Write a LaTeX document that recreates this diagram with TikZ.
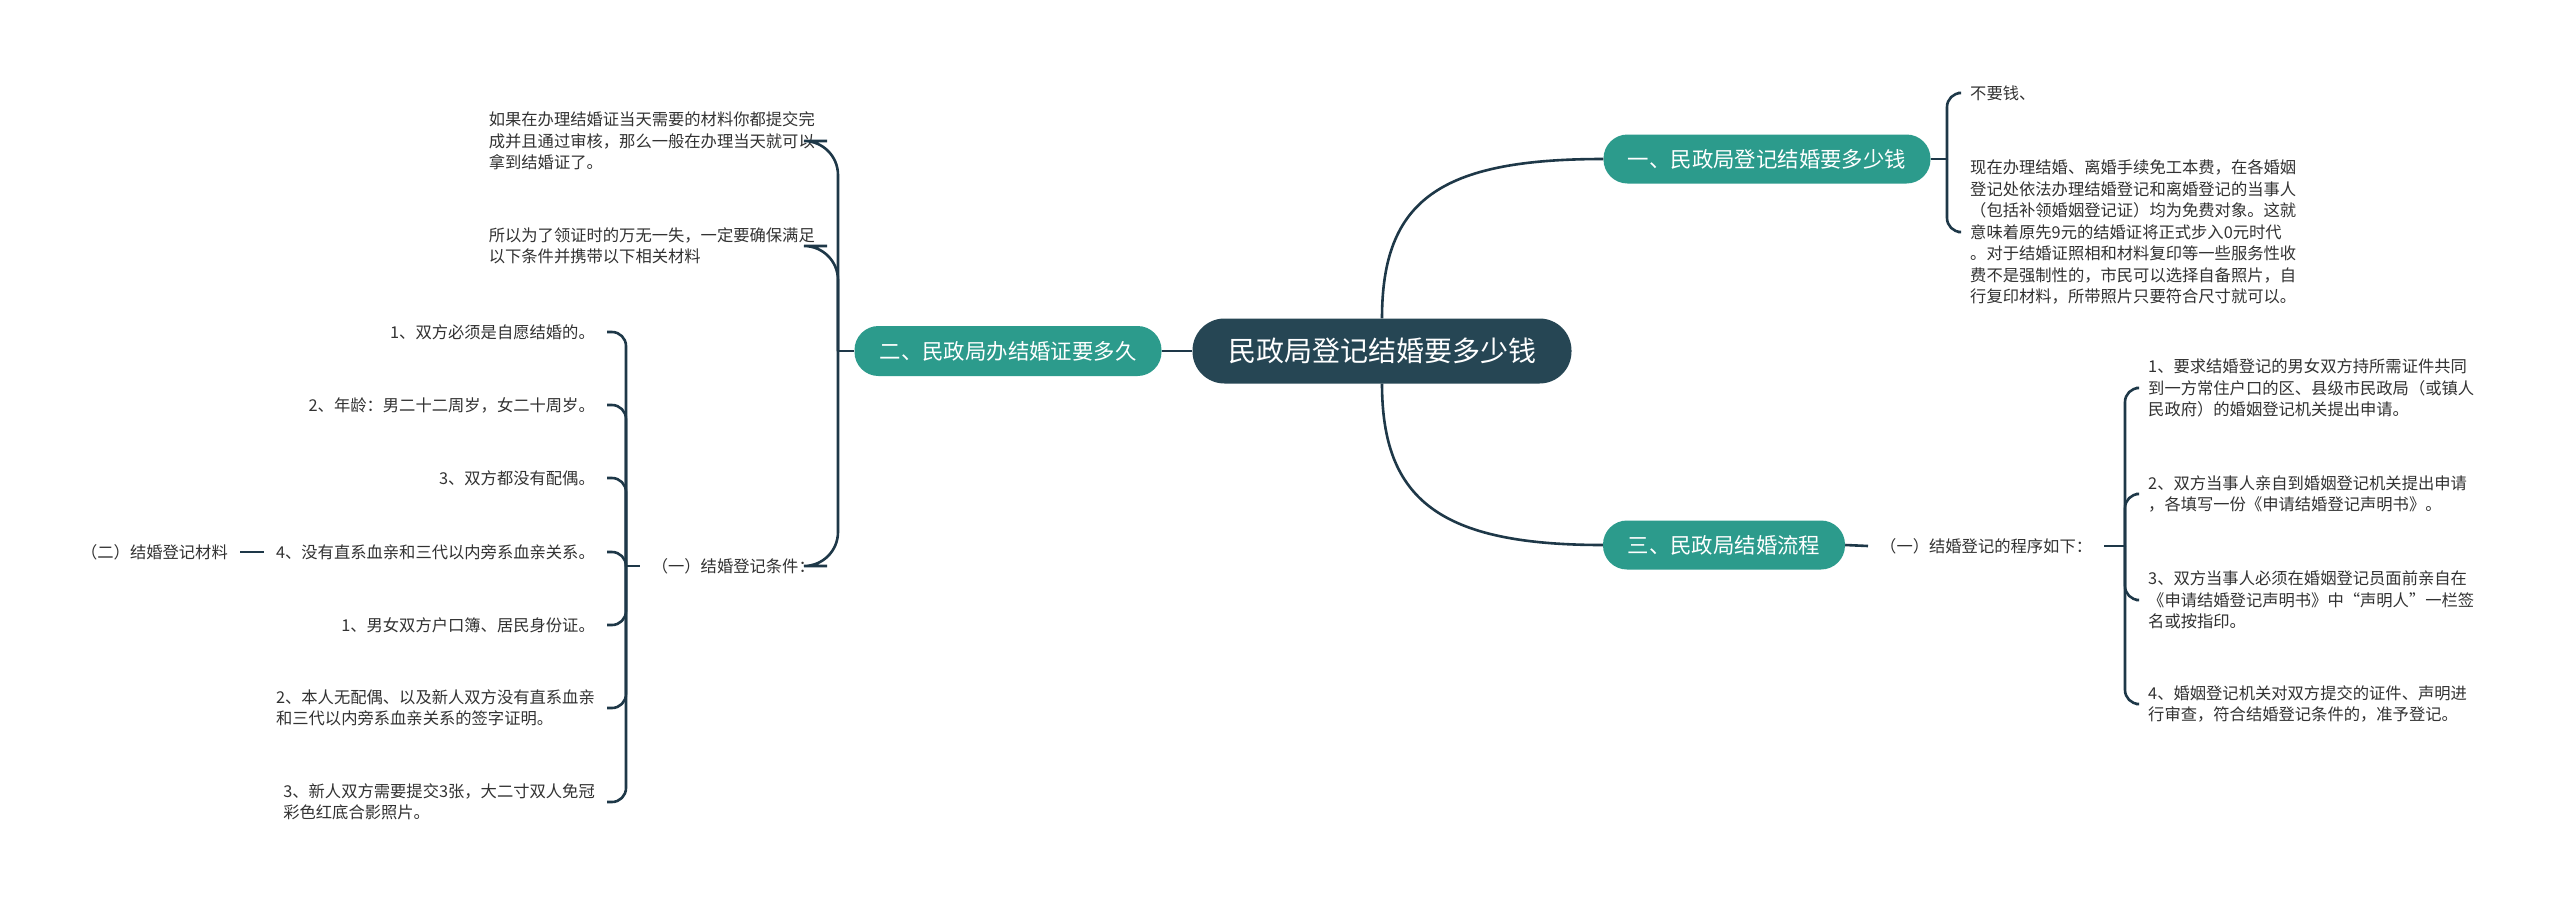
\documentclass[tikz,border=0pt]{standalone}
\usepackage{fontspec}
\setmainfont{Noto Sans CJK SC}
\definecolor{lineC}{RGB}{30,56,72}
\definecolor{tealC}{RGB}{44,155,140}
\definecolor{darkC}{RGB}{38,70,84}
\definecolor{txtC}{RGB}{50,50,50}
\begin{document}
\begin{tikzpicture}[x=1pt,y=-1pt,
  root/.style={fill=darkC, text=white, rounded corners=32pt, minimum width=379pt, minimum height=65pt, font=\fontsize{28}{32}\selectfont, inner sep=0pt},
  topic/.style={fill=tealC, text=white, rounded corners=24pt, minimum height=49pt, font=\fontsize{21.4}{25}\selectfont, inner sep=0pt},
  txt/.style={text=txtC, font=\fontsize{16.3}{21.5}\selectfont, align=left, inner xsep=12pt, inner ysep=2pt},
  conn/.style={draw=lineC, line width=2.6pt},
  br/.style={conn, rounded corners=14pt},
  brwide/.style={conn, rounded corners=34pt}]
\useasboundingbox (0,0) rectangle (2560,903);
\fill[white] (0,0) rectangle (2560,903);

% main nodes
\node[root] (c) at (1382,351) {民政局登记结婚要多少钱};
\node[topic, minimum width=327pt] (n1) at (1767,159) {一、民政局登记结婚要多少钱};
\node[topic, minimum width=307pt, minimum height=50pt] (n2) at (1008,351) {二、民政局办结婚证要多久};
\node[topic, minimum width=242pt] (n3) at (1724,545) {三、民政局结婚流程};

\draw[conn] (c.north) .. controls (1382,200) and (1440,159) .. (n1.west);
\draw[conn] (c.south) .. controls (1382,500) and (1440,545) .. (n3.west);
\draw[conn] (c.west) -- (n2.east);

% right top
\coordinate (j1) at (1947,159);
\node[txt, anchor=west] (r1) at (1958,93) {不要钱、};
\node[txt, anchor=west] (r2) at (1958,232) {现在办理结婚、离婚手续免工本费，在各婚姻\\登记处依法办理结婚登记和离婚登记的当事人\\（包括补领婚姻登记证）均为免费对象。这就\\意味着原先9元的结婚证将正式步入0元时代\\。对于结婚证照相和材料复印等一些服务性收\\费不是强制性的，市民可以选择自备照片，自\\行复印材料，所带照片只要符合尺寸就可以。};
\draw[conn] (n1.east) -- (j1);
\draw[br] (j1) -- (j1 |- r1.west) -- (r1.west);
\draw[br] (j1) -- (j1 |- r2.west) -- (r2.west);

% right bottom
\node[txt, anchor=west] (p1) at (1868,546) {（一）结婚登记的程序如下：};
\draw[conn] (n3.east) -- (p1.west);
\coordinate (j3) at (2125,546);
\draw[conn] (p1.east) -- (j3);
\node[txt, anchor=west] (q1) at (2136,388) {1、要求结婚登记的男女双方持所需证件共同\\到一方常住户口的区、县级市民政局（或镇人\\民政府）的婚姻登记机关提出申请。};
\node[txt, anchor=west] (q2) at (2136,494) {2、双方当事人亲自到婚姻登记机关提出申请\\，各填写一份《申请结婚登记声明书》。};
\node[txt, anchor=west] (q3) at (2136,600) {3、双方当事人必须在婚姻登记员面前亲自在\\《申请结婚登记声明书》中“声明人”一栏签\\名或按指印。};
\node[txt, anchor=west] (q4) at (2136,704) {4、婚姻登记机关对双方提交的证件、声明进\\行审查，符合结婚登记条件的，准予登记。};
\foreach \q in {q1,q2,q3,q4}
  \draw[br] (j3) -- (j3 |- \q.west) -- (\q.west);

% left
\coordinate (j2) at (838,351);
\draw[conn] (n2.west) -- (j2);
\node[txt, anchor=east] (a1) at (827,141) {如果在办理结婚证当天需要的材料你都提交完\\成并且通过审核，那么一般在办理当天就可以\\拿到结婚证了。};
\node[txt, anchor=east] (a2) at (827,246) {所以为了领证时的万无一失，一定要确保满足\\以下条件并携带以下相关材料};
\node[txt, anchor=east] (a3) at (827,566) {（一）结婚登记条件：};
\draw[brwide] (j2) -- (j2 |- a1.east) -- (a1.east);
\draw[brwide] (j2) -- (j2 |- a2.east) -- (a2.east);
\draw[brwide] (j2) -- (j2 |- a3.east) -- (a3.east);

\coordinate (j4) at (626,566);
\draw[conn] (a3.west) -- (j4);
\node[txt, anchor=east] (b1) at (607,332) {1、双方必须是自愿结婚的。};
\node[txt, anchor=east] (b2) at (607,405) {2、年龄：男二十二周岁，女二十周岁。};
\node[txt, anchor=east] (b3) at (607,478) {3、双方都没有配偶。};
\node[txt, anchor=east] (b4) at (607,552) {4、没有直系血亲和三代以内旁系血亲关系。};
\node[txt, anchor=east] (b5) at (607,625) {1、男女双方户口簿、居民身份证。};
\node[txt, anchor=east] (b6) at (607,708) {2、本人无配偶、以及新人双方没有直系血亲\\和三代以内旁系血亲关系的签字证明。};
\node[txt, anchor=east] (b7) at (607,802) {3、新人双方需要提交3张，大二寸双人免冠\\彩色红底合影照片。};
\foreach \b in {b1,b2,b3,b4,b5,b6,b7}
  \draw[br] (j4) -- (j4 |- \b.east) -- (\b.east);

\node[txt, anchor=east] (c1) at (240,552) {（二）结婚登记材料};
\draw[conn] (c1.east) -- (b4.west);
\end{tikzpicture}
\end{document}
